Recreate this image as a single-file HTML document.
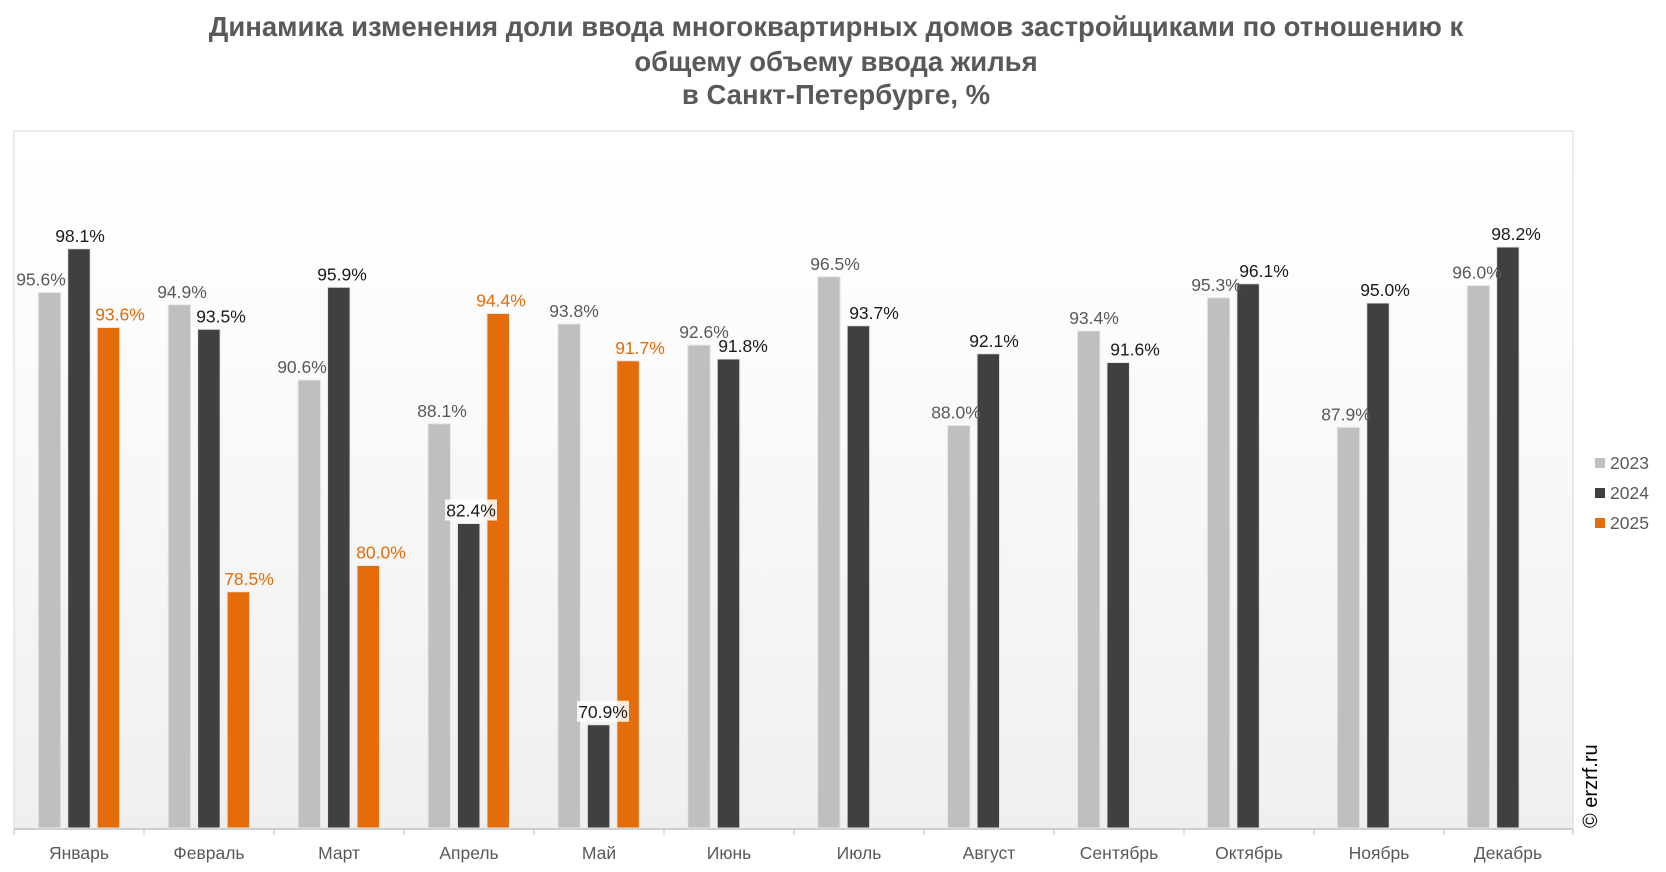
<!DOCTYPE html>
<html><head><meta charset="utf-8"><style>
html,body{margin:0;padding:0;background:#fff;}
svg{display:block;font-family:"Liberation Sans",sans-serif;}
</style></head><body>
<svg width="1666" height="872" viewBox="0 0 1666 872" xmlns="http://www.w3.org/2000/svg">
<defs>
<linearGradient id="bg" x1="0" y1="0" x2="0" y2="1">
<stop offset="0" stop-color="#ffffff"/><stop offset="0.15" stop-color="#fefefe"/><stop offset="1" stop-color="#efefef"/>
</linearGradient>
</defs>
<g font-weight="bold" font-size="27.5" fill="#595959" text-anchor="middle">
<text x="836" y="36">Динамика изменения доли ввода многоквартирных домов застройщиками по отношению к</text>
<text x="836" y="71">общему объему ввода жилья</text>
<text x="836" y="104">в Санкт-Петербурге, %</text>
</g>
<rect x="14" y="131" width="1559" height="698" fill="url(#bg)" stroke="#d9d9d9" stroke-width="1"/>
<line x1="14" y1="829" x2="1573" y2="829" stroke="#bfbfbf" stroke-width="1.5"/>
<g stroke="#bfbfbf" stroke-width="1">
<line x1="14" y1="829" x2="14" y2="835"/><line x1="144" y1="829" x2="144" y2="835"/><line x1="274" y1="829" x2="274" y2="835"/><line x1="404" y1="829" x2="404" y2="835"/><line x1="534" y1="829" x2="534" y2="835"/><line x1="664" y1="829" x2="664" y2="835"/><line x1="794" y1="829" x2="794" y2="835"/><line x1="924" y1="829" x2="924" y2="835"/><line x1="1054" y1="829" x2="1054" y2="835"/><line x1="1184" y1="829" x2="1184" y2="835"/><line x1="1314" y1="829" x2="1314" y2="835"/><line x1="1444" y1="829" x2="1444" y2="835"/><line x1="1573" y1="829" x2="1573" y2="835"/>
</g>
<g id="bars" stroke="#e8e8e8" stroke-width="1"></g>
<g id="labels" font-size="17.5" text-anchor="middle"></g>
<g font-size="17.5" fill="#595959" text-anchor="middle">
<text x="79" y="859">Январь</text><text x="209" y="859">Февраль</text><text x="339" y="859">Март</text><text x="469" y="859">Апрель</text><text x="599" y="859">Май</text><text x="729" y="859">Июнь</text><text x="859" y="859">Июль</text><text x="989" y="859">Август</text><text x="1119" y="859">Сентябрь</text><text x="1249" y="859">Октябрь</text><text x="1379" y="859">Ноябрь</text><text x="1508" y="859">Декабрь</text>
</g>
<rect x="1595" y="458" width="10" height="10" fill="#bfbfbf"/>
<rect x="1595" y="488" width="10" height="10" fill="#404040"/>
<rect x="1595" y="518" width="10" height="10" fill="#e46c0a"/>
<g font-size="17.5" fill="#595959">
<text x="1610" y="469">2023</text><text x="1610" y="499">2024</text><text x="1610" y="529">2025</text>
</g>
<text transform="translate(1597,828) rotate(-90)" font-size="20" fill="#000">© erzrf.ru</text>
<script>
var d=[[95.6,98.1,93.6],[94.9,93.5,78.5],[90.6,95.9,80.0],[88.1,82.4,94.4],[93.8,70.9,91.7],[92.6,91.8,null],[96.5,93.7,null],[88.0,92.1,null],[93.4,91.6,null],[95.3,96.1,null],[87.9,95.0,null],[96.0,98.2,null]];
var lx=[[41,80,120],[182,221,249],[302,342,381],[442,471,501],[574,603,640],[704,743,0],[835,874,0],[956,994,0],[1094,1135,0],[1216,1264,0],[1346,1385,0],[1477,1516,0]];
var col=["#bfbfbf","#404040","#e46c0a"],tc=["#595959","#1a1a1a","#e36c0a"];
var ns="http://www.w3.org/2000/svg",B=document.getElementById("bars"),L=document.getElementById("labels");
for(var i=0;i<12;i++){var c=79+i*129.9;for(var j=0;j<3;j++){var v=d[i][j];if(v==null)continue;
var x=c+(j-1)*29.5-11.25,y=828-(v-65)*17.5;
var r=document.createElementNS(ns,"rect");r.setAttribute("x",x);r.setAttribute("y",y);r.setAttribute("width",22.5);r.setAttribute("height",828-y);r.setAttribute("fill",col[j]);B.appendChild(r);
if((i==3||i==4)&&j==1){var bg=document.createElementNS(ns,"rect");bg.setAttribute("x",lx[i][j]-26);bg.setAttribute("y",y-24);bg.setAttribute("width",52);bg.setAttribute("height",21);bg.setAttribute("fill","#fff");bg.setAttribute("opacity","0.85");L.appendChild(bg);}
var t=document.createElementNS(ns,"text");t.setAttribute("x",lx[i][j]);t.setAttribute("y",y-7);t.setAttribute("fill",tc[j]);t.textContent=v.toFixed(1)+"%";L.appendChild(t);}}
</script>
</svg>
</body></html>
